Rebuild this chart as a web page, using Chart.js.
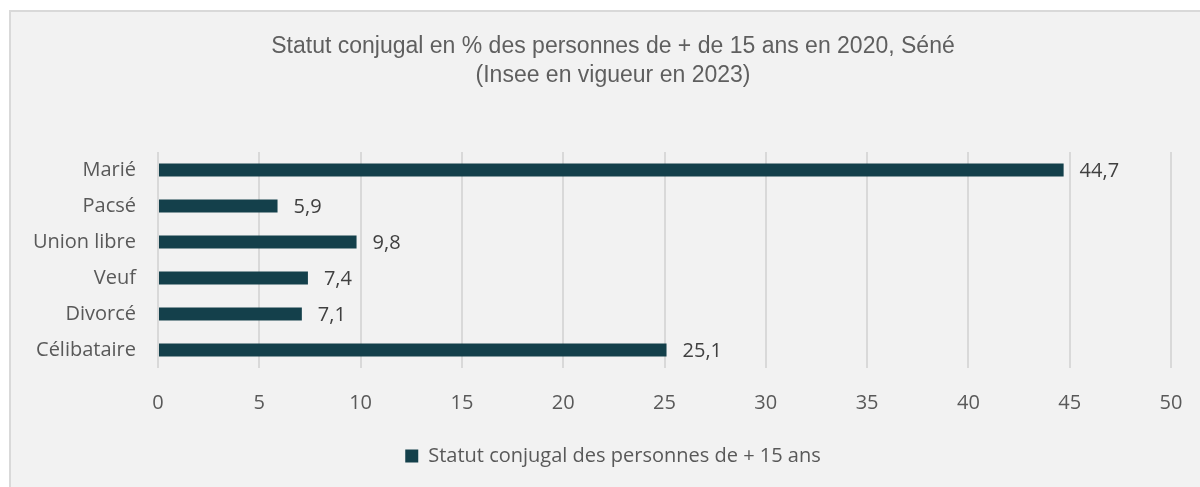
<!DOCTYPE html>
<html>
<head>
<meta charset="utf-8">
<script src="https://cdn.jsdelivr.net/npm/chart.js@4/dist/chart.umd.min.js"></script>
<style>
  html, body { margin: 0; padding: 0; background: #ffffff; }
  #frame { position: absolute; left: 9px; top: 10px; width: 1191px; height: 477px;
           background: #F2F2F2; border-left: 2px solid #D9D9D9; border-top: 2px solid #D9D9D9; box-sizing: border-box; }
  #wrap { position: absolute; left: 0; top: 0; width: 1189px; height: 475px; }
</style>
</head>
<body>
<div id="frame"><div id="wrap"><canvas id="c" width="1189" height="475"></canvas></div></div>
<script>
const categories = ["Marié", "Pacsé", "Union libre", "Veuf", "Divorcé", "Célibataire"];
const values = [44.7, 5.9, 9.8, 7.4, 7.1, 25.1];
const seriesName = "Statut conjugal des personnes de + 15 ans";
const titleLines = ["Statut conjugal en % des personnes de + de 15 ans en 2020, Séné", "(Insee en vigueur en 2023)"];
const xTicks = [0, 5, 10, 15, 20, 25, 30, 35, 40, 45, 50];

const labelFont = "'Open Sans', 'Noto Sans', sans-serif";

const valueLabels = {
  id: 'valueLabels',
  afterDatasetsDraw(chart) {
    const ctx = chart.ctx;
    const meta = chart.getDatasetMeta(0);
    ctx.save();
    ctx.font = "20px " + labelFont;
    ctx.fillStyle = "#404040";
    ctx.textAlign = "left";
    ctx.textBaseline = "middle";
    meta.data.forEach((el, i) => {
      const v = chart.data.datasets[0].data[i];
      ctx.fillText(String(v).replace('.', ','), el.x + 16, el.y + 1);
    });
    ctx.restore();
  }
};

new Chart(document.getElementById('c'), {
  type: 'bar',
  data: {
    labels: categories,
    datasets: [{
      label: seriesName,
      data: values,
      backgroundColor: '#14404B',
      borderWidth: 0,
      barPercentage: 0.36,
      categoryPercentage: 1
    }]
  },
  options: {
    indexAxis: 'y',
    responsive: false,
    animation: false,
    layout: { padding: { left: 44, right: 29, top: 0, bottom: 11 } },
    plugins: {
      title: {
        display: true,
        text: titleLines,
        color: '#5F5F5F',
        font: { family: "'Liberation Sans', Arial, sans-serif", size: 23, weight: 'normal', lineHeight: 1.26 },
        padding: { top: 20, bottom: 62 }
      },
      legend: {
        position: 'bottom',
        labels: {
          color: '#595959',
          font: { family: labelFont, size: 20 },
          boxWidth: 13, boxHeight: 13,
          padding: 10
        }
      },
      tooltip: { enabled: false }
    },
    scales: {
      x: {
        min: 0, max: 50,
        afterBuildTicks(axis) { axis.ticks = xTicks.map(v => ({ value: v })); },
        afterFit(axis) { axis.height = 68; axis.paddingLeft = 0; axis.paddingRight = 0; },
        ticks: { color: '#595959', font: { family: labelFont, size: 20 }, padding: 23 },
        grid: { color: '#D9D9D9', lineWidth: 2, drawTicks: false },
        border: { display: false }
      },
      y: {
        afterFit(axis) { axis.width = 103; axis.paddingTop = 0; axis.paddingBottom = 0; axis._computeLabelArea = () => undefined; },
        ticks: { color: '#595959', font: { family: labelFont, size: 20 }, padding: 22 },
        grid: { display: false, drawTicks: false },
        border: { display: false }
      }
    }
  },
  plugins: [valueLabels]
});
</script>
</body>
</html>
